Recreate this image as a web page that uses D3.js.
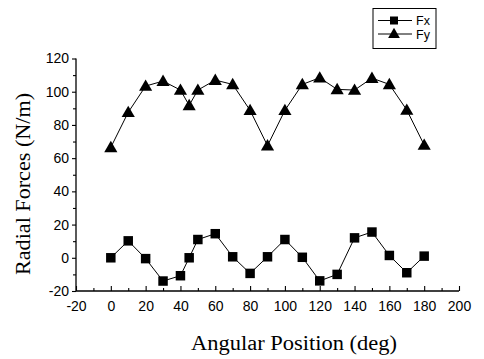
<!DOCTYPE html>
<html><head><meta charset="utf-8">
<script src="https://cdn.jsdelivr.net/npm/d3@7"></script>
<style>body{margin:0;background:#fff}</style>
</head><body>
<svg id="c" width="484" height="359"></svg>
<script>
const angles = [0,10,20,30,40,45,50,60,70,80,90,100,110,120,130,140,150,160,170,180];
const fx = [0,10.2,-0.5,-14,-10.8,0,11,14.5,0.6,-9.4,0.6,11,0.3,-13.9,-10,12,15.5,1.4,-9,1];
const fy = [66.5,87.6,103.4,106.4,101,91.8,101,107,104.4,88.8,67.5,88.8,104.4,108.4,101.4,101,108.2,104.4,89,67.9];
const xTicks = [-20,0,20,40,60,80,100,120,140,160,180,200];
const yTicks = [-20,0,20,40,60,80,100,120];
const seriesNames = ["Fx","Fy"];

const svg = d3.select("#c");
const x = d3.scaleLinear().domain([-20,200]).range([76,459]);
const y = d3.scaleLinear().domain([-20,120]).range([291,58.5]);

const xMinor = d3.range(-10,200,20);
const yMinor = d3.range(-10,120,20);
const fmt = d => String(d);

const xa = svg.append("g").attr("transform",`translate(0,${y(-20)})`)
  .call(d3.axisBottom(x).tickValues(xTicks).tickSize(-5).tickPadding(10).tickFormat(fmt));
svg.append("g").attr("transform",`translate(0,${y(-20)})`)
  .call(d3.axisBottom(x).tickValues(xMinor).tickSize(-3).tickFormat(""))
  .call(g=>g.select(".domain").remove());
const ya = svg.append("g").attr("transform",`translate(${x(-20)},0)`)
  .call(d3.axisLeft(y).tickValues(yTicks).tickSize(4).tickPadding(3).tickFormat(fmt));
svg.append("g").attr("transform",`translate(${x(-20)},0)`)
  .call(d3.axisLeft(y).tickValues(yMinor).tickSize(3).tickFormat(""))
  .call(g=>g.select(".domain").remove());
svg.selectAll(".domain").attr("stroke","#000").attr("stroke-width",1.3);
svg.selectAll(".tick line").attr("stroke","#000").attr("stroke-width",1.1);
svg.selectAll(".tick text").attr("font-family","Liberation Sans, Arial, sans-serif").attr("font-size",14).attr("fill","#000");
xa.select(".domain").attr("d",`M${x(-20)},0H${x(200)}`);
ya.select(".domain").attr("d",`M0,${y(-20)}V${y(120)}`);

const line = d3.line().x(d=>x(d[0])).y(d=>y(d[1]));
const fxData = angles.map((a,i)=>[a,fx[i]]);
const fyData = angles.map((a,i)=>[a,fy[i]]);
svg.append("path").datum(fxData).attr("d",line).attr("fill","none").attr("stroke","#000").attr("stroke-width",1);
svg.append("path").datum(fyData).attr("d",line).attr("fill","none").attr("stroke","#000").attr("stroke-width",1);

const sq = d3.symbol().type(d3.symbolSquare).size(90);
const tri = d3.symbol().type(d3.symbolTriangle).size(75);
svg.selectAll(".fx").data(fxData).join("path").attr("class","fx")
  .attr("transform",d=>`translate(${x(d[0])},${y(d[1])})`).attr("d",sq).attr("fill","#000");
svg.selectAll(".fy").data(fyData).join("path").attr("class","fy")
  .attr("transform",d=>`translate(${x(d[0])},${y(d[1])+1})`).attr("d",tri).attr("fill","#000");

// legend
const lg = svg.append("g");
lg.append("rect").attr("x",373).attr("y",8.5).attr("width",63).attr("height",40).attr("fill","#fff").attr("stroke","#000").attr("stroke-width",1);
const smallSq = d3.symbol().type(d3.symbolSquare).size(64);
const smallTri = d3.symbol().type(d3.symbolTriangle).size(60);
seriesNames.forEach((n,i)=>{
  const yy = 20.5 + i*13.5;
  lg.append("line").attr("x1",378).attr("x2",412).attr("y1",yy).attr("y2",yy).attr("stroke","#000");
  lg.append("path").attr("transform",`translate(394,${yy+(i?0.5:0)})`).attr("d",i?smallTri():smallSq()).attr("fill","#000");
  lg.append("text").attr("x",416).attr("y",yy+4.5).text(n).attr("font-family","Liberation Sans, Arial, sans-serif").attr("font-size",12.5);
});

svg.append("text").attr("transform","translate(30,184) rotate(-90)").attr("text-anchor","middle")
  .attr("font-family","Liberation Serif, Times New Roman, serif").attr("font-size",20)
  .attr("textLength",182).attr("lengthAdjust","spacingAndGlyphs").text("Radial Forces (N/m)");
svg.append("text").attr("x",294).attr("y",350).attr("text-anchor","middle")
  .attr("font-family","Liberation Serif, Times New Roman, serif").attr("font-size",20)
  .attr("textLength",206).attr("lengthAdjust","spacingAndGlyphs").text("Angular Position (deg)");
</script>
</body></html>
